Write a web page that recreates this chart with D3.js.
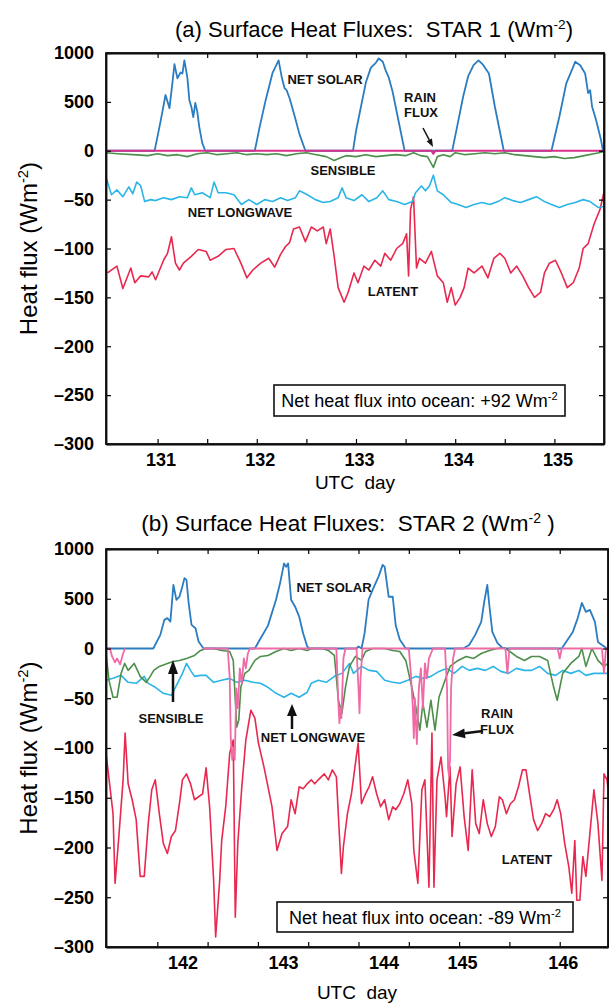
<!DOCTYPE html>
<html>
<head>
<meta charset="utf-8">
<script src="https://cdn.jsdelivr.net/npm/d3@7"></script>
<style>
  body { margin: 0; background: #fff; }
  text { font-family: "Liberation Sans", Arial, Helvetica, sans-serif; }
</style>
</head>
<body>
<svg id="chart" width="609" height="1004"></svg>
<script>
// values, [UTC day, W m-2]; null = no data

// ---- (a) STAR 1 ----
const solarA = [[130.48,0],[130.97,0],[131.0,150],[131.03,300],[131.08,570],[131.12,436],[131.15,700],[131.17,885],[131.2,740],[131.23,800],[131.25,790],[131.27,925],[131.3,750],[131.32,520],[131.34,450],[131.36,345],[131.38,490],[131.4,400],[131.42,245],[131.45,80],[131.48,0],
  [131.98,0],[132.03,250],[132.09,520],[132.16,800],[132.22,925],[132.25,760],[132.28,640],[132.3,620],[132.33,540],[132.38,360],[132.43,170],[132.49,0],
  [132.97,0],[133.0,200],[133.05,450],[133.1,700],[133.15,850],[133.2,900],[133.23,945],[133.27,910],[133.3,820],[133.33,750],[133.37,600],[133.4,450],[133.45,200],[133.49,0],
  [133.97,0],[134.02,250],[134.08,552],[134.13,760],[134.185,875],[134.235,925],[134.28,880],[134.34,790],[134.4,450],[134.45,200],[134.49,0],
  [134.97,0],[135.05,348],[135.12,690],[135.21,910],[135.26,875],[135.31,790],[135.34,590],[135.36,620],[135.38,450],[135.42,314],[135.47,110],[135.49,0],[135.5,0]];
const rainA = [[130.48,0],[133.76,0],[133.78,-3],[133.8,0],[135.5,0]];
const sensibleA = [[130.48,-2],[130.6,-3],[130.75,-4],[130.9,-5],[131.0,-3],[131.1,-5],[131.2,-4],[131.3,-6],[131.4,-3],[131.5,-2],[131.6,-4],[131.7,-3],[131.8,-2],[131.9,-4],[132.0,-3],[132.1,-4],[132.2,-3],[132.3,-5],[132.4,-3],[132.5,-2],[132.6,-4],[132.7,-6],[132.78,-10],[132.85,-7],[132.9,-5],[133.0,-6],[133.1,-4],[133.2,-6],[133.3,-5],[133.4,-4],[133.5,-5],[133.58,-2],[133.65,-5],[133.72,-6],[133.78,-17],[133.82,-6],[133.88,-4],[133.95,-6],[134.0,-2],[134.1,-4],[134.2,-3],[134.3,-2],[134.4,-3],[134.5,-2],[134.6,-4],[134.7,-5],[134.8,-6],[134.9,-7],[135.0,-6],[135.1,-8],[135.2,-7],[135.3,-5],[135.4,-3],[135.5,-1]];
const longwaveA = [[130.48,-27],[130.535,-45],[130.59,-40],[130.65,-47],[130.71,-37],[130.75,-44],[130.79,-32],[130.83,-36],[130.87,-52],[130.93,-50],[130.98,-51],[131.06,-48],[131.14,-50],[131.22,-47],[131.3,-48],[131.34,-38],[131.375,-45],[131.45,-43],[131.53,-48],[131.57,-32],[131.61,-43],[131.69,-43],[131.77,-45],[131.845,-55],[131.92,-50],[132.0,-55],[132.08,-50],[132.16,-52],[132.24,-48],[132.31,-51],[132.39,-48],[132.43,-41],[132.51,-45],[132.59,-50],[132.67,-53],[132.74,-52],[132.82,-48],[132.86,-38],[132.9,-48],[132.98,-51],[133.06,-45],[133.13,-52],[133.21,-48],[133.27,-41],[133.33,-50],[133.41,-52],[133.49,-55],[133.57,-52],[133.6,-43],[133.66,-36],[133.7,-41],[133.74,-36],[133.78,-25],[133.82,-41],[133.88,-45],[133.96,-53],[134.03,-55],[134.11,-58],[134.19,-55],[134.27,-53],[134.35,-55],[134.43,-52],[134.5,-48],[134.58,-51],[134.66,-53],[134.74,-50],[134.82,-47],[134.9,-52],[134.97,-55],[135.05,-58],[135.13,-55],[135.21,-53],[135.29,-50],[135.36,-52],[135.44,-58],[135.5,-57]];
const latentA = [[130.495,-125],[130.59,-118],[130.65,-141],[130.73,-120],[130.77,-135],[130.83,-128],[130.91,-129],[130.945,-124],[130.98,-132],[131.02,-122],[131.06,-112],[131.1,-105],[131.14,-88],[131.18,-115],[131.22,-122],[131.26,-115],[131.34,-108],[131.41,-101],[131.49,-103],[131.53,-112],[131.61,-108],[131.69,-101],[131.77,-100],[131.84,-115],[131.9,-130],[131.96,-122],[132.04,-115],[132.12,-110],[132.18,-119],[132.24,-106],[132.29,-98],[132.33,-94],[132.37,-80],[132.43,-78],[132.49,-93],[132.55,-78],[132.61,-82],[132.67,-78],[132.7,-95],[132.74,-80],[132.78,-108],[132.82,-140],[132.88,-155],[132.92,-145],[132.98,-125],[133.02,-135],[133.08,-118],[133.13,-122],[133.19,-112],[133.25,-118],[133.29,-105],[133.35,-112],[133.41,-100],[133.47,-95],[133.51,-85],[133.53,-128],[133.55,-60],[133.58,-47],[133.61,-120],[133.64,-110],[133.7,-115],[133.76,-103],[133.82,-128],[133.88,-135],[133.92,-155],[133.96,-140],[134.0,-158],[134.05,-150],[134.09,-140],[134.13,-120],[134.19,-125],[134.27,-118],[134.33,-130],[134.39,-110],[134.45,-105],[134.5,-110],[134.56,-125],[134.62,-118],[134.68,-128],[134.74,-140],[134.8,-150],[134.86,-145],[134.9,-125],[134.95,-115],[135.01,-112],[135.07,-125],[135.13,-140],[135.19,-135],[135.25,-120],[135.29,-100],[135.34,-95],[135.4,-75],[135.46,-60],[135.5,-42]];

// ---- (b) STAR 2 ----
const solarB = [[141.49,0],[141.96,0],[142.03,137],[142.07,288],[142.1,305],[142.13,270],[142.16,640],[142.19,489],[142.22,522],[142.245,607],[142.27,707],[142.29,690],[142.31,472],[142.34,237],[142.38,204],[142.41,70],[142.46,0],
  [142.97,0],[143.02,90],[143.1,230],[143.18,490],[143.22,655],[143.26,855],[143.28,820],[143.3,855],[143.33,490],[143.37,420],[143.41,320],[143.45,150],[143.49,20],[143.51,0],
  [143.98,0],[144.0,20],[144.03,0],[144.06,150],[144.1,490],[144.14,590],[144.2,725],[144.24,840],[144.26,820],[144.3,520],[144.34,520],[144.37,230],[144.41,90],[144.47,0],
  [145.04,0],[145.1,36],[145.16,137],[145.22,268],[145.25,470],[145.28,640],[145.3,440],[145.33,167],[145.38,56],[145.43,6],[145.46,0],
  [146.02,0],[146.13,167],[146.18,308],[146.22,458],[146.26,368],[146.3,388],[146.35,268],[146.38,66],[146.42,36],[146.47,0],[146.48,0]];
const rainB = [[141.49,0],[141.53,0],[141.55,-8],[141.58,-14],[141.6,-10],[141.63,-16],[141.66,-5],[141.68,0],[141.7,null],
  [142.45,0],[142.7,0],[142.72,-30],[142.73,-90],[142.745,-112],[142.76,-100],[142.77,-112],[142.785,-40],[142.8,-60],[142.82,-20],[142.84,-35],[142.86,-10],[142.88,-20],[142.9,-5],[142.92,0],
  [143.78,0],[143.8,-55],[143.81,-75],[143.82,-60],[143.83,-70],[143.85,-10],[143.87,0],
  [143.98,0],[144.0,-40],[144.01,-65],[144.02,-30],[144.04,0],
  [144.5,0],[144.52,-25],[144.54,-60],[144.55,-90],[144.56,-50],[144.58,-96],[144.6,-40],[144.62,-20],[144.64,-60],[144.66,-15],[144.68,-30],[144.7,-10],[144.72,-5],[144.74,0],
  [144.86,0],[144.88,-40],[144.89,-120],[144.9,-128],[144.91,-110],[144.92,-40],[144.94,-10],[144.96,0],
  [145.46,0],[145.48,-25],[145.5,0],[145.98,0],[146.0,-10],[146.02,0],[146.42,0],[146.44,-25],[146.46,0],[146.48,0]];
const sensibleB = [[141.49,-5],[141.52,-32],[141.56,-49],[141.6,-49],[141.64,-25],[141.675,-15],[141.71,-22],[141.77,-15],[141.83,-28],[141.89,-34],[141.93,-28],[141.965,-22],[142.02,-18],[142.1,-15],[142.16,-13],[142.22,-12],[142.29,-10],[142.37,-7],[142.43,-2],[142.485,0],[142.56,0],[142.64,-2],[142.72,-3],[142.755,-12],[142.775,-52],[142.79,-79],[142.81,-72],[142.83,-39],[142.87,-25],[142.91,-22],[142.97,-12],[143.025,-8],[143.1,-7],[143.18,-3],[143.26,0],[143.33,-2],[143.41,0],[143.49,-2],[143.53,0],[143.64,0],[143.7,-2],[143.76,-7],[143.8,-52],[143.835,-65],[143.87,-39],[143.91,-18],[143.97,-8],[144.03,-12],[144.07,-3],[144.14,0],[144.26,0],[144.34,-2],[144.41,-3],[144.47,-12],[144.53,-39],[144.57,-59],[144.61,-82],[144.64,-55],[144.68,-79],[144.72,-52],[144.76,-82],[144.8,-49],[144.86,-32],[144.91,-18],[144.99,-12],[145.07,-8],[145.145,-10],[145.22,-5],[145.3,-2],[145.38,0],[145.415,5],[145.45,7],[145.49,-2],[145.57,-8],[145.65,-12],[145.72,-8],[145.8,-8],[145.88,-12],[145.94,-39],[145.975,-52],[146.03,-25],[146.11,-15],[146.19,-8],[146.22,2],[146.26,-18],[146.32,0],[146.38,-12],[146.44,-18],[146.48,-15]];
const longwaveB = [[141.49,-32],[141.56,-30],[141.64,-27],[141.71,-34],[141.79,-35],[141.87,-28],[141.91,-35],[141.98,-39],[142.06,-45],[142.14,-47],[142.18,-39],[142.25,-25],[142.29,-15],[142.33,-22],[142.37,-28],[142.43,-27],[142.485,-27],[142.56,-34],[142.64,-32],[142.72,-30],[142.79,-34],[142.87,-32],[142.95,-34],[143.025,-35],[143.1,-39],[143.18,-45],[143.26,-49],[143.33,-45],[143.41,-49],[143.49,-44],[143.53,-35],[143.6,-32],[143.68,-34],[143.76,-28],[143.835,-25],[143.91,-15],[143.95,-25],[144.03,-18],[144.105,-22],[144.18,-23],[144.26,-32],[144.34,-34],[144.41,-35],[144.49,-32],[144.57,-28],[144.64,-30],[144.72,-28],[144.8,-23],[144.875,-20],[144.95,-25],[145.03,-18],[145.1,-22],[145.18,-20],[145.26,-22],[145.34,-18],[145.415,-23],[145.49,-25],[145.57,-20],[145.65,-22],[145.72,-22],[145.8,-18],[145.88,-25],[145.96,-27],[146.03,-22],[146.11,-25],[146.19,-22],[146.26,-27],[146.34,-25],[146.44,-25],[146.48,-25]];
const latentB = [[141.49,-105],[141.56,-166],[141.58,-236],[141.62,-186],[141.66,-132],[141.68,-85],[141.71,-136],[141.75,-152],[141.79,-172],[141.83,-229],[141.87,-229],[141.91,-176],[141.945,-142],[141.98,-132],[142.02,-166],[142.06,-196],[142.1,-206],[142.14,-189],[142.18,-183],[142.22,-156],[142.25,-132],[142.29,-126],[142.33,-136],[142.37,-152],[142.41,-149],[142.45,-146],[142.485,-120],[142.52,-159],[142.56,-233],[142.58,-290],[142.62,-233],[142.64,-193],[142.68,-159],[142.72,-105],[142.755,-92],[142.775,-270],[142.8,-196],[142.84,-139],[142.88,-92],[142.93,-62],[142.97,-70],[143.005,-95],[143.06,-119],[143.14,-159],[143.19,-203],[143.24,-186],[143.295,-179],[143.33,-152],[143.37,-166],[143.41,-139],[143.45,-141],[143.49,-136],[143.53,-132],[143.565,-136],[143.6,-132],[143.66,-126],[143.7,-132],[143.74,-122],[143.78,-129],[143.83,-226],[143.85,-199],[143.89,-166],[143.93,-146],[143.97,-115],[143.996,-95],[144.03,-156],[144.07,-146],[144.105,-139],[144.14,-129],[144.18,-146],[144.22,-159],[144.26,-152],[144.3,-172],[144.34,-159],[144.37,-162],[144.41,-156],[144.45,-146],[144.49,-132],[144.53,-156],[144.55,-203],[144.59,-236],[144.63,-142],[144.66,-132],[144.7,-240],[144.73,-85],[144.75,-240],[144.78,-132],[144.82,-109],[144.86,-149],[144.875,-169],[144.91,-119],[144.93,-189],[144.97,-136],[145.01,-119],[145.05,-169],[145.09,-203],[145.13,-122],[145.165,-176],[145.2,-186],[145.24,-152],[145.28,-176],[145.32,-189],[145.36,-179],[145.4,-149],[145.43,-152],[145.47,-166],[145.51,-156],[145.55,-152],[145.59,-139],[145.63,-122],[145.665,-122],[145.7,-146],[145.74,-172],[145.78,-183],[145.82,-176],[145.86,-166],[145.9,-169],[145.94,-162],[145.975,-152],[146.01,-166],[146.05,-196],[146.09,-219],[146.12,-246],[146.15,-193],[146.17,-253],[146.2,-253],[146.23,-209],[146.26,-229],[146.3,-186],[146.34,-142],[146.38,-176],[146.42,-233],[146.44,-126],[146.47,-132],[146.48,-140]];

const yTicks = [1000, 500, 0, -50, -100, -150, -200, -250, -300];
const dayLabelsA = [131, 132, 133, 134, 135];
const dayLabelsB = [142, 143, 144, 145, 146];
const netFluxA = '+92';
const netFluxB = '-89';

const colors = { solar: '#2b7cc0', longwave: '#2bb5e6', sensible: '#4b8f4b', latent: '#e8284f', rainA: '#d9308a', rainB: '#f06aa6' };

const svg = d3.select('#chart');

function sup(sel, base, s, lift) {
  sel.append('tspan').text(base);
  sel.append('tspan').attr('dy', -lift).attr('font-size', '0.62em').text(s);
}

function drawPanel(p) {
  const x = d3.scaleLinear().domain(p.days).range([p.left, p.right]);
  const h = p.bottom - p.top;
  // 1000..0 squeezed into two steps, 0..-300 in six
  const y = d3.scaleLinear().domain([1000, 0, -300]).range([p.top, p.top + h / 4, p.bottom]);
  const line = d3.line().defined(d => d[1] !== null).x(d => x(d[0])).y(d => y(d[1]));

  svg.append('clipPath').attr('id', p.id + 'clip')
    .append('rect').attr('x', p.left).attr('y', p.top)
    .attr('width', p.right - p.left).attr('height', h);

  const g = svg.append('g').attr('clip-path', `url(#${p.id}clip)`);
  p.series.forEach(s => {
    g.append('path').datum(s.data)
      .attr('fill', 'none')
      .attr('stroke', s.color)
      .attr('stroke-width', s.w || 1.6)
      .attr('stroke-linejoin', 'round')
      .attr('d', line);
  });

  const halfDays = d3.range(Math.ceil(p.days[0] * 2) / 2, p.days[1], 0.5)
    .filter(d => d > p.days[0] + 0.05 && d < p.days[1] - 0.05);

  const bottomAxis = svg.append('g').attr('transform', `translate(0,${p.bottom})`)
    .call(d3.axisBottom(x).tickValues(halfDays).tickSize(-5).tickSizeOuter(0).tickPadding(9)
      .tickFormat(d => p.labels.includes(d) ? d : ''));
  bottomAxis.selectAll('text')
    .attr('font-size', 18).attr('font-weight', 'bold').attr('font-family', null)
    .attr('dx', d => (p.labelShift[d] || 0) * (x(1) - x(0)) + 3);

  svg.append('g').attr('transform', `translate(0,${p.top})`)
    .call(d3.axisTop(x).tickValues(halfDays).tickSize(-5).tickSizeOuter(0).tickFormat(''));

  const leftAxis = svg.append('g').attr('transform', `translate(${p.left},0)`)
    .call(d3.axisLeft(y).tickValues(yTicks).tickSize(-5).tickSizeOuter(0).tickPadding(12)
      .tickFormat(d => d < 0 ? '\u2013' + (-d) : d));
  leftAxis.selectAll('text').attr('font-size', 18).attr('font-weight', 'bold').attr('font-family', null);

  svg.append('g').attr('transform', `translate(${p.right},0)`)
    .call(d3.axisRight(y).tickValues(yTicks).tickSize(-5).tickSizeOuter(0).tickFormat(''));

  svg.selectAll('.domain').attr('stroke-width', 1.8);
  svg.selectAll('.tick line').attr('stroke-width', 1.2);

  svg.append('rect').attr('x', p.left).attr('y', p.top)
    .attr('width', p.right - p.left).attr('height', h)
    .attr('fill', 'none').attr('stroke', '#111').attr('stroke-width', 1.8);

  // title
  const t = svg.append('text').attr('x', p.titleX).attr('y', p.titleY)
    .attr('text-anchor', 'middle').attr('font-size', p.titleSize);
  sup(t, p.title + ' (Wm', '-2', 8);
  t.append('tspan').attr('dy', 8).text(p.titleEnd);

  // axis titles
  svg.append('text').attr('x', (p.left + p.right) / 2).attr('y', p.xTitleY)
    .attr('text-anchor', 'middle').attr('font-size', 19).attr('xml:space', 'preserve').text('UTC  day');
  const yl = svg.append('text')
    .attr('transform', `translate(37,${(p.top + p.bottom) / 2}) rotate(-90)`)
    .attr('text-anchor', 'middle').attr('font-size', 24);
  sup(yl, 'Heat flux (Wm', '-2', 9);
  yl.append('tspan').attr('dy', 9).text(')');

  // net flux box
  svg.append('rect').attr('x', p.box[0]).attr('y', p.box[1]).attr('width', p.box[2]).attr('height', p.box[3])
    .attr('fill', '#fff').attr('stroke', '#111').attr('stroke-width', 1.6);
  const bt = svg.append('text').attr('x', p.box[0] + p.box[2] / 2).attr('y', p.box[1] + 22)
    .attr('text-anchor', 'middle').attr('font-size', 18);
  sup(bt, 'Net heat flux into ocean: ' + p.net + ' Wm', '-2', 7);

  // curve labels
  p.notes.forEach(n => {
    svg.append('text').attr('x', n[1]).attr('y', n[2]).attr('text-anchor', 'middle')
      .attr('font-size', 13).attr('font-weight', 'bold').attr('fill', '#111').text(n[0]);
  });
  p.arrows.forEach(a => {
    const [x1, y1, x2, y2, w, hl, hw] = a;
    const ang = Math.atan2(y2 - y1, x2 - x1);
    const bx = x2 - hl * Math.cos(ang), by = y2 - hl * Math.sin(ang);
    svg.append('line').attr('x1', x1).attr('y1', y1).attr('x2', bx).attr('y2', by)
      .attr('stroke', '#111').attr('stroke-width', w);
    const nx = -Math.sin(ang) * hw / 2, ny = Math.cos(ang) * hw / 2;
    svg.append('path').attr('d', `M${x2},${y2}L${bx + nx},${by + ny}L${bx - nx},${by - ny}Z`).attr('fill', '#111');
  });
}

drawPanel({
  id: 'a', days: [130.48, 135.5], left: 106, right: 604, top: 53, bottom: 444, xTitleY: 489,
  labels: dayLabelsA, labelShift: {},
  series: [
    { data: latentA, color: colors.latent },
    { data: longwaveA, color: colors.longwave },
    { data: sensibleA, color: colors.sensible },
    { data: solarA, color: colors.solar, w: 1.8 },
    { data: rainA, color: colors.rainA, w: 2.2 }
  ],
  title: '(a) Surface Heat Fluxes:\u00a0\u00a0STAR 1', titleEnd: ')', titleX: 374, titleY: 37, titleSize: 22,
  box: [274, 385, 291, 31], net: netFluxA,
  notes: [['NET SOLAR', 325, 84], ['RAIN', 420, 102], ['FLUX', 421, 117], ['SENSIBLE', 343, 175],
          ['NET LONGWAVE', 240, 217], ['LATENT', 393, 296]],
  arrows: [[423, 128, 433, 147, 1.5, 8, 6]]
});

drawPanel({
  id: 'b', days: [141.49, 146.48], left: 106, right: 608, top: 549, bottom: 947, xTitleY: 999,
  labels: dayLabelsB, labelShift: { 142: 0.22, 143: 0.22, 144: 0.22 },
  series: [
    { data: latentB, color: colors.latent },
    { data: longwaveB, color: colors.longwave },
    { data: sensibleB, color: colors.sensible },
    { data: solarB, color: colors.solar, w: 1.8 },
    { data: rainB, color: colors.rainB, w: 1.8 }
  ],
  title: '(b) Surface Heat Fluxes:\u00a0\u00a0STAR 2', titleEnd: '\u00a0)', titleX: 348, titleY: 531, titleSize: 22.5,
  box: [277, 902, 296, 30], net: netFluxB,
  notes: [['NET SOLAR', 334, 592], ['SENSIBLE', 171, 723], ['NET LONGWAVE', 313, 742], ['RAIN', 497, 718],
          ['FLUX', 497, 734], ['LATENT', 527, 864]],
  arrows: [[173, 702, 173, 660, 2.5, 14, 10], [292, 729, 292, 704, 2.5, 12, 10], [483, 731, 452, 735, 2.5, 13, 10]]
});
</script>
</body>
</html>
